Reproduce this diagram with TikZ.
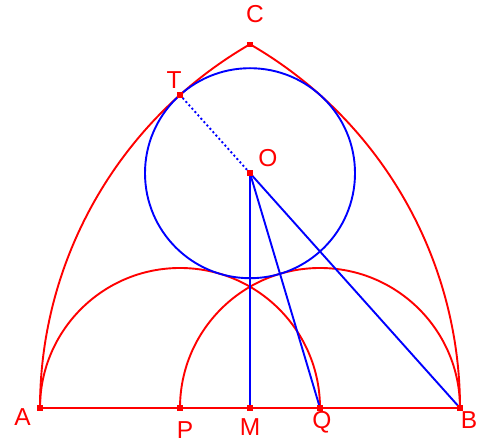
\documentclass[tikz,border=0pt]{standalone}
\usepackage{fontspec}
\setmainfont{Liberation Sans}
\begin{document}
\begin{tikzpicture}[x=1pt,y=1pt,
  redline/.style={draw=red,line width=1.9pt},
  blueline/.style={draw=blue,line width=1.9pt},
  pt/.style={rectangle,fill=red,inner sep=0pt,minimum size=5.5pt},
  lbl/.style={text=red,font=\fontsize{24.5}{27}\selectfont,anchor=base,inner sep=0pt}]
\useasboundingbox (0,0) rectangle (490,443);
\coordinate (A) at (40,35);
\coordinate (B) at (460,35);
\coordinate (M) at (250,35);
\coordinate (P) at (180,35);
\coordinate (Q) at (320,35);
\coordinate (C) at (250,398.73);
\coordinate (O) at (250,269.79);
\coordinate (T) at (180,348.05);
% arcs
\draw[redline] (A) arc[start angle=180,end angle=120,radius=420];
\draw[redline] (B) arc[start angle=0,end angle=60,radius=420];
\draw[redline] (A) arc[start angle=180,end angle=0,radius=140];
\draw[redline] (P) arc[start angle=180,end angle=0,radius=140];
\draw[redline] (A) -- (B);
% circle and segments
\draw[blueline] (O) circle[radius=105];
\draw[blueline] (O) -- (M);
\draw[blueline] (O) -- (Q);
\draw[blueline] (O) -- (B);
\draw[draw=blue,line width=1.9pt,dash pattern=on 2pt off 2.5pt] (O) -- (T);
% points
\foreach \p in {A,B,M,P,Q,C,O,T} \node[pt] (pt\p) at (\p) {};
% labels
\node[lbl] (lC) at (255,420) {C};
\node[lbl] (lT) at (174,354) {T};
\node[lbl] (lO) at (268,276) {O};
\node[lbl] (lA) at (22.5,17) {A};
\node[lbl] (lP) at (185,4) {P};
\node[lbl] (lM) at (250,7) {M};
\node[lbl] (lQ) at (322,14) {Q};
\node[lbl] (lB) at (469,14) {B};
\end{tikzpicture}
\end{document}
